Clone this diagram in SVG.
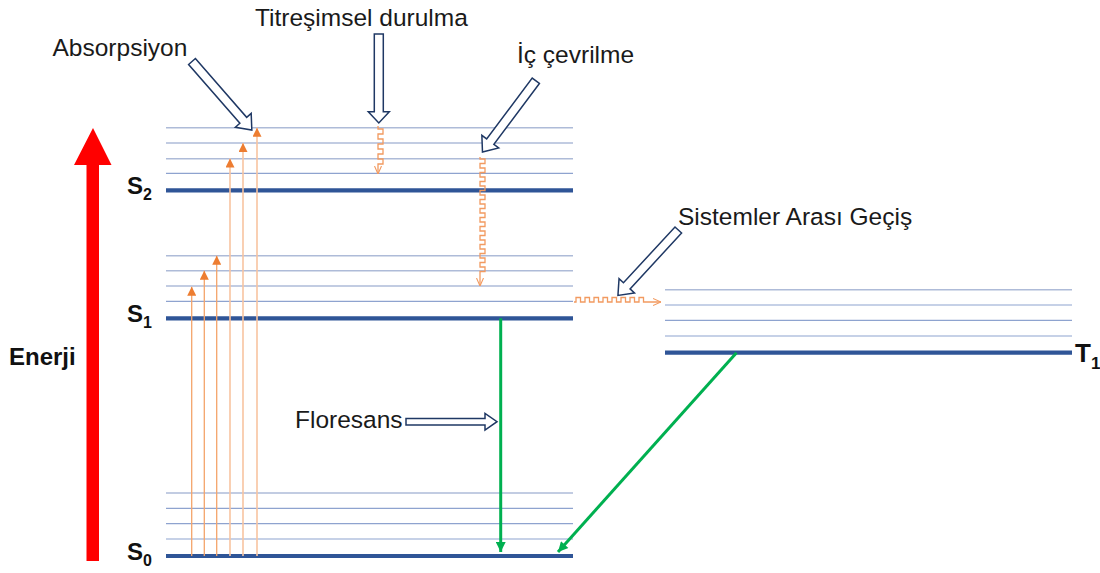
<svg xmlns="http://www.w3.org/2000/svg" width="1100" height="573" viewBox="0 0 1100 573">
<style>
.lbl{font-family:"Liberation Sans",Arial,sans-serif;font-size:24.5px;fill:#1a1a1a}
.st{font-family:"Liberation Sans",Arial,sans-serif;font-weight:bold;font-size:24px;fill:#111}
.sub{font-family:"Liberation Sans",Arial,sans-serif;font-weight:bold;font-size:16px;fill:#111}
.thin{stroke:#aebbd8;stroke-width:1.6}
.thin2{stroke:#8ea3cf;stroke-width:1.2}
.thick{stroke:#2f5597;stroke-width:4.2}
.abs{stroke:#f4a46a;stroke-width:1.3;fill:none}
.absl{stroke:#f8c4a0;stroke-width:1.6;fill:none}
.wave{stroke:#f29a60;stroke-width:1.3;fill:none}
.grn{stroke:#00b050;stroke-width:3;fill:none}
.blk{fill:#fff;stroke:#1f3864;stroke-width:1.5;stroke-linejoin:miter}
</style>
<defs>
<marker id="hOr" markerUnits="userSpaceOnUse" viewBox="0 0 10 10" markerWidth="9" markerHeight="9" refX="10" refY="5" orient="auto"><path d="M0,0 L10,5 L0,10 Z" fill="#ed7d31"/></marker>
<marker id="hGr" markerUnits="userSpaceOnUse" viewBox="0 0 10 10" markerWidth="12" markerHeight="10" refX="10" refY="5" orient="auto"><path d="M0,0 L10,5 L0,10 Z" fill="#00b050"/></marker>
<marker id="hV" markerUnits="userSpaceOnUse" viewBox="0 0 8 8" markerWidth="8" markerHeight="8" refX="8" refY="4" orient="auto"><path d="M0,0.5 L8,4 L0,7.5" fill="none" stroke="#f29a60" stroke-width="1.1"/></marker>
</defs>
<rect width="1100" height="573" fill="#fff"/>

<g id="energy-axis">
<path d="M86.5,561 V165 H74 L93,128 L111.5,165 H99 V561 Z" fill="#ff0000"/>
<text class="st" x="9" y="365">Enerji</text>
</g>

<g id="S2">
<line class="thin" x1="166" y1="127.7" x2="573" y2="127.7"/>
<line class="thin" x1="166" y1="143" x2="573" y2="143"/>
<line class="thin" x1="166" y1="158.7" x2="573" y2="158.7"/>
<line class="thin2" x1="166" y1="173.3" x2="573" y2="173.3"/>
<line class="thick" x1="166" y1="190.3" x2="573" y2="190.3"/>
<text class="st" x="127" y="194">S<tspan class="sub" dy="6">2</tspan></text>
</g>

<g id="S1">
<line class="thin" x1="166" y1="255.7" x2="573" y2="255.7"/>
<line class="thin" x1="166" y1="270.7" x2="573" y2="270.7"/>
<line class="thin" x1="166" y1="286" x2="573" y2="286"/>
<line class="thin2" x1="166" y1="301.3" x2="573" y2="301.3"/>
<line class="thick" x1="166" y1="318.3" x2="573" y2="318.3"/>
<text class="st" x="127" y="322">S<tspan class="sub" dy="6">1</tspan></text>
</g>

<g id="S0">
<line class="thin" x1="166" y1="493" x2="573" y2="493"/>
<line class="thin2" x1="166" y1="508.3" x2="573" y2="508.3"/>
<line class="thin2" x1="166" y1="523.7" x2="573" y2="523.7"/>
<line class="thin2" x1="166" y1="539" x2="573" y2="539"/>
<line class="thick" x1="166" y1="556" x2="573" y2="556"/>
<text class="st" x="127" y="560">S<tspan class="sub" dy="6">0</tspan></text>
</g>

<g id="T1">
<line class="thin" x1="665" y1="289.7" x2="1072" y2="289.7"/>
<line class="thin2" x1="665" y1="305" x2="1072" y2="305"/>
<line class="thin2" x1="665" y1="320.3" x2="1072" y2="320.3"/>
<line class="thin2" x1="665" y1="336" x2="1072" y2="336"/>
<line class="thick" x1="665" y1="352.7" x2="1072" y2="352.7"/>
<text class="st" x="1075" y="362" style="font-size:26px">T<tspan class="sub" dy="7" style="font-size:17px">1</tspan></text>
</g>

<g id="label-absorpsiyon">
<text class="lbl" x="52.5" y="56">Absorpsiyon</text>
<g transform="translate(192,61.5) rotate(48.9)"><path class="blk" d="M0,-4.5 H78 V-10.5 L91,0 L78,10.5 V4.5 H0 Z"/></g>
</g>

<g id="label-titresimsel">
<text class="lbl" x="255" y="26">Titreşimsel durulma</text>
<path class="blk" d="M374.3,34 H383.3 V111.7 H389.3 L378.8,123 L368.3,111.7 H374.3 Z"/>
</g>

<g id="label-ic-cevrilme">
<text class="lbl" x="517" y="63">İç çevrilme</text>
<g transform="translate(535.8,80.8) rotate(126.8)"><path class="blk" d="M0,-4.5 H76 V-10.5 L89,0 L76,10.5 V4.5 H0 Z"/></g>
</g>

<g id="label-sistemler">
<text class="lbl" x="678" y="225">Sistemler Arası Geçiş</text>
<g transform="translate(678.3,230) rotate(132.7)"><path class="blk" d="M0,-4.5 H76 V-10.5 L89,0 L76,10.5 V4.5 H0 Z"/></g>
</g>

<g id="label-floresans">
<text class="lbl" x="295" y="428">Floresans</text>
<path class="blk" d="M406,418.4 H485 V413.5 L497,421.7 L485,430 V425 H406 Z"/>
</g>

<g id="connectors">
<line class="abs" x1="191.7" y1="556" x2="191.7" y2="286.7" marker-end="url(#hOr)"/>
<line class="abs" x1="204.3" y1="556" x2="204.3" y2="270.7" marker-end="url(#hOr)"/>
<line class="abs" x1="216.7" y1="556" x2="216.7" y2="255.7" marker-end="url(#hOr)"/>
<line class="absl" x1="230" y1="556" x2="230" y2="158.5" marker-end="url(#hOr)"/>
<line class="absl" x1="243" y1="556" x2="243" y2="143" marker-end="url(#hOr)"/>
<line class="absl" x1="257" y1="556" x2="257" y2="127.7" marker-end="url(#hOr)"/>

<path class="wave" d="M378,126 v3 h5 v5 h-5 v5 h5 v5 h-5 v5 h5 v5 h-5 v5 h5 v5 h-5 v10" marker-end="url(#hV)"/>

<path class="wave" d="M480,157 v2 h5 v4.5 h-5 v4.5 h5 v4.5 h-5 v4.5 h5 v4.5 h-5 v4.5 h5 v4.5 h-5 v4.5 h5 v4.5 h-5 v4.5 h5 v4.5 h-5 v4.5 h5 v4.5 h-5 v4.5 h5 v4.5 h-5 v4.5 h5 v4.5 h-5 v4.5 h5 v4.5 h-5 v4.5 h5 v4.5 h-5 v4.5 h5 v4.5 h-5 v4.5 h5 v4.5 h-5 v4.5 v10" marker-end="url(#hV)"/>

<path class="wave" d="M574,302 h2 v-4.5 h4.5 v4.5 h4.5 v-4.5 h4.5 v4.5 h4.5 v-4.5 h4.5 v4.5 h4.5 v-4.5 h4.5 v4.5 h4.5 v-4.5 h4.5 v4.5 h4.5 v-4.5 h4.5 v4.5 h4.5 v-4.5 h4.5 v4.5 h4.5 v-4.5 h4.5 v4.5 h4.5 h13" marker-end="url(#hV)"/>

<line class="grn" x1="500.7" y1="318.3" x2="500.7" y2="552" marker-end="url(#hGr)"/>
<line class="grn" x1="736.5" y1="352.7" x2="558" y2="552" marker-end="url(#hGr)"/>
</g>
</svg>
